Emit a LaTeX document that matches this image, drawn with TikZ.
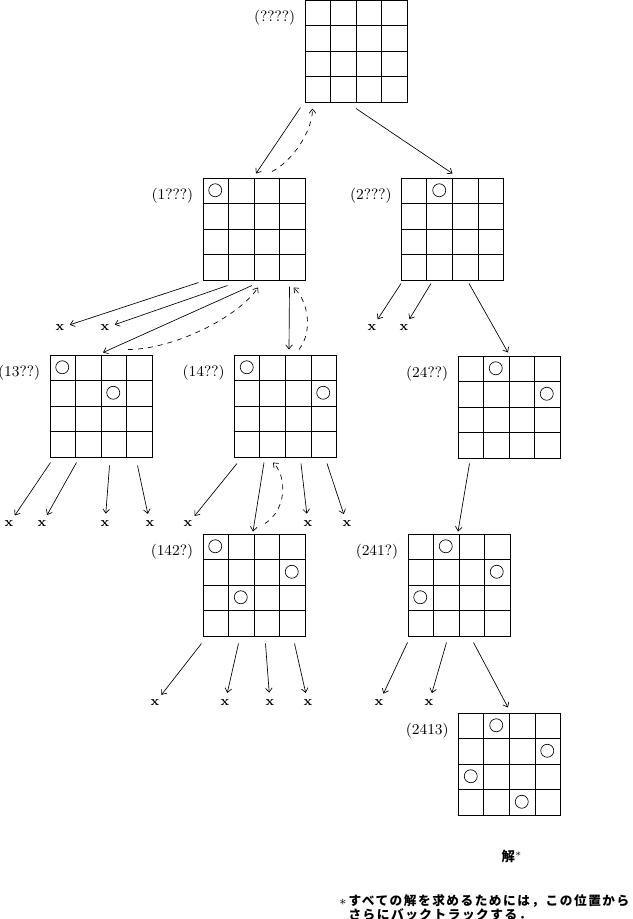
\documentclass[tikz,border=0pt]{standalone}
\usepackage{fontspec}
\usepackage{tikz}
\usetikzlibrary{arrows.meta,calc}
\newfontfamily\jpfont{Noto Sans CJK JP}
\newcommand{\qboard}[4]{%
  \node[boardbox] (#1) at (#2) {};
  \foreach \k in {1,2,3}{
    \draw[semithick] ($(#1.north west)!\k/4!(#1.north east)$) -- ($(#1.south west)!\k/4!(#1.south east)$);
    \draw[semithick] ($(#1.north west)!\k/4!(#1.south west)$) -- ($(#1.north east)!\k/4!(#1.south east)$);
  }
  \foreach \row/\col in {#4}
    \draw ([shift={(\col*25.5-12.75,\row*25.5-12.75)}]#1.north west) circle (3.9pt);
  \node[tag,anchor=base east] (#1-tag) at ([shift={(-9,22)}]#1.north west) {#3};
}

\begin{document}
\begin{tikzpicture}[x=0.6pt,y=-0.6pt,
  boardbox/.style={draw,semithick,minimum size=61.2pt,inner sep=0pt},
  tag/.style={font=\small,inner sep=0pt},
  dead/.style={circle,inner sep=0pt,minimum size=12pt,font=\footnotesize\bfseries},
  try/.style={-{Straight Barb[length=2.5pt,width=4pt]}},
  back/.style={try,dashed}]
  \useasboundingbox (0,0) rectangle (633,919);

  % boards
  \qboard{b0}{356,51}{(????)}{}
  \qboard{b1}{254,229}{(1???)}{1/1}
  \qboard{b2}{452.5,229}{(2???)}{1/2}
  \qboard{b13}{101,406}{(13??)}{1/1,2/3}
  \qboard{b14}{285.5,406}{(14??)}{1/1,2/4}
  \qboard{b24}{509,407}{(24??)}{1/2,2/4}
  \qboard{b142}{254,585}{(142?)}{1/1,2/4,3/2}
  \qboard{b241}{459,585}{(241?)}{1/2,2/4,3/1}
  \qboard{b2413}{509.5,764}{(2413)}{1/2,2/4,3/1,4/3}

  % dead ends
  \foreach \n/\px/\py in {a/60/328,b/105/328,c/372/328,d/404/328,
      e/9/524,f/42/524,g/105/524,h/150/524,i/188/524,j/308/524,k/347/524,
      l/155/703,m/225/703,n/270/703,o/308/703,p/379/703,q/429/703}
    \node[dead] (x\n) at (\px,\py) {x};

  \draw[try] ([shift={(-4,5)}]b0.south west) -- ([shift={(2,-4)}]b1.north);
  \draw[try] ([shift={(0,6)}]b0.south) -- ([shift={(0,-4)}]b2.north);
  \draw[back] ([shift={(18,-6)}]b1.north) .. controls +(20,-10) and +(0,23) .. ([shift={(8,6)}]b0.south west);

  \draw[try] ([shift={(-4,2)}]b1.south west) -- (xa);
  \draw[try] ([shift={(25,5)}]b1.south west) -- (xb);
  \draw[try] ([shift={(-2,5)}]b1.south) -- ([shift={(2,-2)}]b13.north);
  \draw[back] ([shift={(27,-5)}]b13.north) .. controls +(45,0) and +(-20,30) .. ([shift={(4,7)}]b1.south);
  \draw[try] ([shift={(-16,6)}]b1.south east) -- ([shift={(3.5,-5)}]b14.north);
  \draw[back] ([shift={(13.5,-5)}]b14.north) .. controls +(14,-18) and +(15,14) .. ([shift={(-12,7)}]b1.south east);

  \draw[try] ([shift={(0,3)}]b2.south west) -- (xc);
  \draw[try] ([shift={(30,3)}]b2.south west) -- (xd);
  \draw[try] ([shift={(68,3)}]b2.south west) -- ([shift={(-1,-3)}]b24.north);

  \draw[try] ([shift={(1,5)}]b13.south west) -- (xe);
  \draw[try] ([shift={(27,5)}]b13.south west) -- (xf);
  \draw[try] ([shift={(60,8)}]b13.south west) -- (xg);
  \draw[try] ([shift={(88,8)}]b13.south west) -- (xh);

  \draw[try] ([shift={(3,6)}]b14.south west) -- (xi);
  \draw[try] ([shift={(30,5)}]b14.south west) -- ([shift={(-1,-2)}]b142.north);
  \draw[back] ([shift={(11,-10)}]b142.north) .. controls +(22,-14) and +(14,14) .. ([shift={(39,5)}]b14.south west);
  \draw[try] ([shift={(67,6)}]b14.south west) -- (xj);
  \draw[try] ([shift={(93,6)}]b14.south west) -- (xk);

  \draw[try] ([shift={(12,5)}]b24.south west) -- ([shift={(-1,-2)}]b241.north);

  \draw[try] ([shift={(-1,7)}]b142.south west) -- (xl);
  \draw[try] ([shift={(36,7)}]b142.south west) -- (xm);
  \draw[try] ([shift={(63,7)}]b142.south west) -- (xn);
  \draw[try] ([shift={(92,7)}]b142.south west) -- (xo);

  \draw[try] ([shift={(0,6)}]b241.south west) -- (xp);
  \draw[try] ([shift={(39,6)}]b241.south west) -- (xq);
  \draw[try] ([shift={(66,6)}]b241.south west) -- ([shift={(-1.5,-5)}]b2413.north);

  % solution and footnote
  \node[font=\jpfont\bfseries\fontsize{8}{9}\selectfont,inner sep=0pt] (sol) at (512,856) {解$^*$};
  \node[anchor=base west,inner sep=0pt,
        font=\jpfont\bfseries\fontsize{7.6}{7.6}\selectfont\addfontfeature{LetterSpace=12}] (note) at (339,905)
    {\begin{tabular}[t]{@{}l@{\,}l@{}}$*$&すべての解を求めるためには，この位置から\\
     &さらにバックトラックする．\end{tabular}};
\end{tikzpicture}
\end{document}
